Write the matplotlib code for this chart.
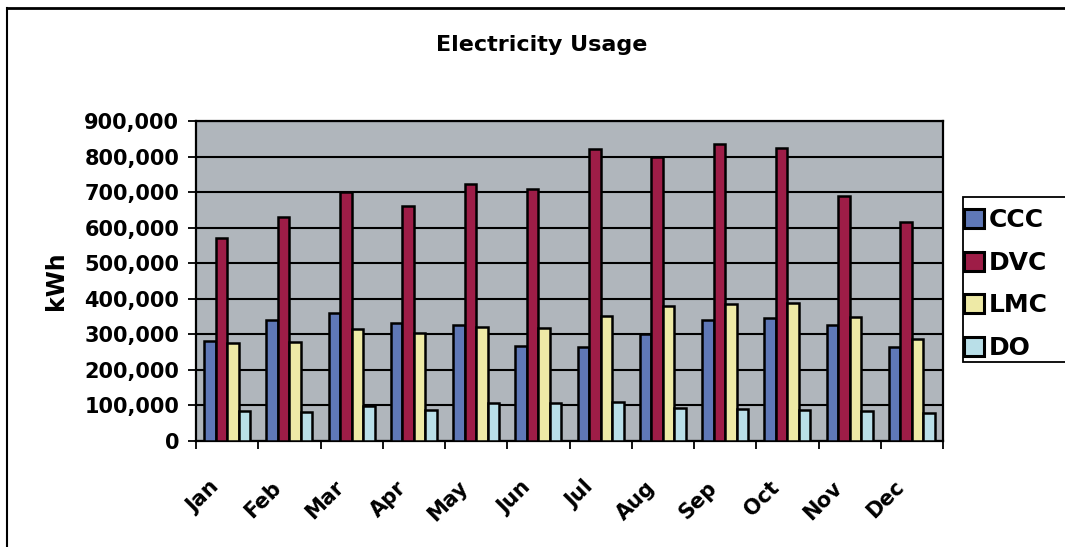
import matplotlib
matplotlib.use("Agg")
import matplotlib.pyplot as plt
import matplotlib.transforms as mtransforms
import numpy as np
from matplotlib.ticker import FuncFormatter, FixedLocator
from matplotlib.lines import Line2D
from matplotlib.patches import Rectangle

months = ["Jan", "Feb", "Mar", "Apr", "May", "Jun",
          "Jul", "Aug", "Sep", "Oct", "Nov", "Dec"]
series_names = ["CCC", "DVC", "LMC", "DO"]
ccc = [281000, 340000, 359000, 331000, 326000, 267000,
       265000, 301000, 340000, 345000, 326000, 265000]
dvc = [572000, 629000, 701000, 661000, 723000, 708000,
       820000, 800000, 834000, 825000, 689000, 617000]
lmc = [277000, 279000, 314000, 303000, 320000, 317000,
       352000, 380000, 384000, 387000, 348000, 287000]
do = [84000, 82000, 99000, 87000, 108000, 106000,
      110000, 94000, 89000, 87000, 84000, 78000]
colors = ["#5f78b7", "#9e1d47", "#eeeaa6", "#b9dfe8"]

plt.rcParams["font.family"] = "DejaVu Sans"
plt.rcParams["font.weight"] = "bold"

W, H = 1065, 547
fig = plt.figure(figsize=(W / 100, H / 100), dpi=100)
fig.patch.set_facecolor("white")
ax = fig.add_axes([196 / W, 1 - 441 / H, (943 - 196) / W, 320 / H])
ax.set_facecolor("#b0b6bc")

x = np.arange(len(months))
width = 0.185
for i, (name, vals, col) in enumerate(zip(series_names, [ccc, dvc, lmc, do], colors)):
    ax.bar(x + (i - 1.5) * width, vals, width=width, color=col,
           edgecolor="black", linewidth=1.8, label=name, zorder=3)

ax.set_xlim(-0.5, len(months) - 0.5)
ax.set_ylim(0, 900000)
ax.set_yticks(np.arange(0, 900001, 100000))
ax.yaxis.set_major_formatter(FuncFormatter(lambda v, p: f"{int(v):,}"))
ax.yaxis.grid(True, color="black", linewidth=1.5, zorder=1)
ax.set_axisbelow(True)

# month boundaries carry the tick marks, month centres carry the labels
ax.xaxis.set_major_locator(FixedLocator(np.arange(-0.5, len(months), 1.0)))
ax.xaxis.set_minor_locator(FixedLocator(x))
ax.set_xticklabels([], minor=False)
ax.set_xticklabels(months, minor=True, rotation=45, ha="right",
                   rotation_mode="anchor", fontsize=15, fontweight="bold")
ax.tick_params(axis="x", which="minor", length=0, pad=26)
ax.tick_params(axis="x", which="major", length=6, width=1.3, direction="out")
ax.tick_params(axis="y", length=6, width=1.3, direction="out", pad=6,
               labelsize=15)
shift = mtransforms.ScaledTranslation(-18 / 100, 0, fig.dpi_scale_trans)
for lbl in ax.get_xticklabels(minor=True):
    lbl.set_transform(lbl.get_transform() + shift)
for lbl in ax.get_yticklabels():
    lbl.set_fontweight("bold")

for side in ax.spines:
    ax.spines[side].set_linewidth(1.6)

ax.set_ylabel("kWh", fontsize=17, fontweight="bold", labelpad=12)

fig.text(542 / W, 1 - 45 / H, "Electricity Usage", ha="center",
         va="center", fontsize=16, fontweight="bold")

# legend box runs off the right edge of the chart area
fig.add_artist(Rectangle((963 / W, 1 - 362 / H), 120 / W, 165 / H,
                         transform=fig.transFigure, facecolor="white",
                         edgecolor="black", linewidth=1.3, zorder=5))
handles = [plt.Rectangle((0, 0), 1, 1, facecolor=c, edgecolor="black",
                         linewidth=2.2) for c in colors]
leg = fig.legend(handles, series_names, loc="upper left",
                 bbox_to_anchor=(964 / W, 1 - 208 / H),
                 prop={"size": 18, "weight": "bold"},
                 frameon=False, handlelength=0.8,
                 handleheight=0.8, handletextpad=0.2, labelspacing=0.75,
                 borderpad=0.0, borderaxespad=0)
leg.set_zorder(6)

# outer chart border
fig.add_artist(Line2D([7 / W, 7 / W], [0, 1 - 8 / H],
                      transform=fig.transFigure, color="black", linewidth=1.5))
fig.add_artist(Line2D([7 / W, 1], [1 - 8 / H, 1 - 8 / H],
                      transform=fig.transFigure, color="black", linewidth=2))

fig.savefig("out.png", dpi=100, facecolor="white")
